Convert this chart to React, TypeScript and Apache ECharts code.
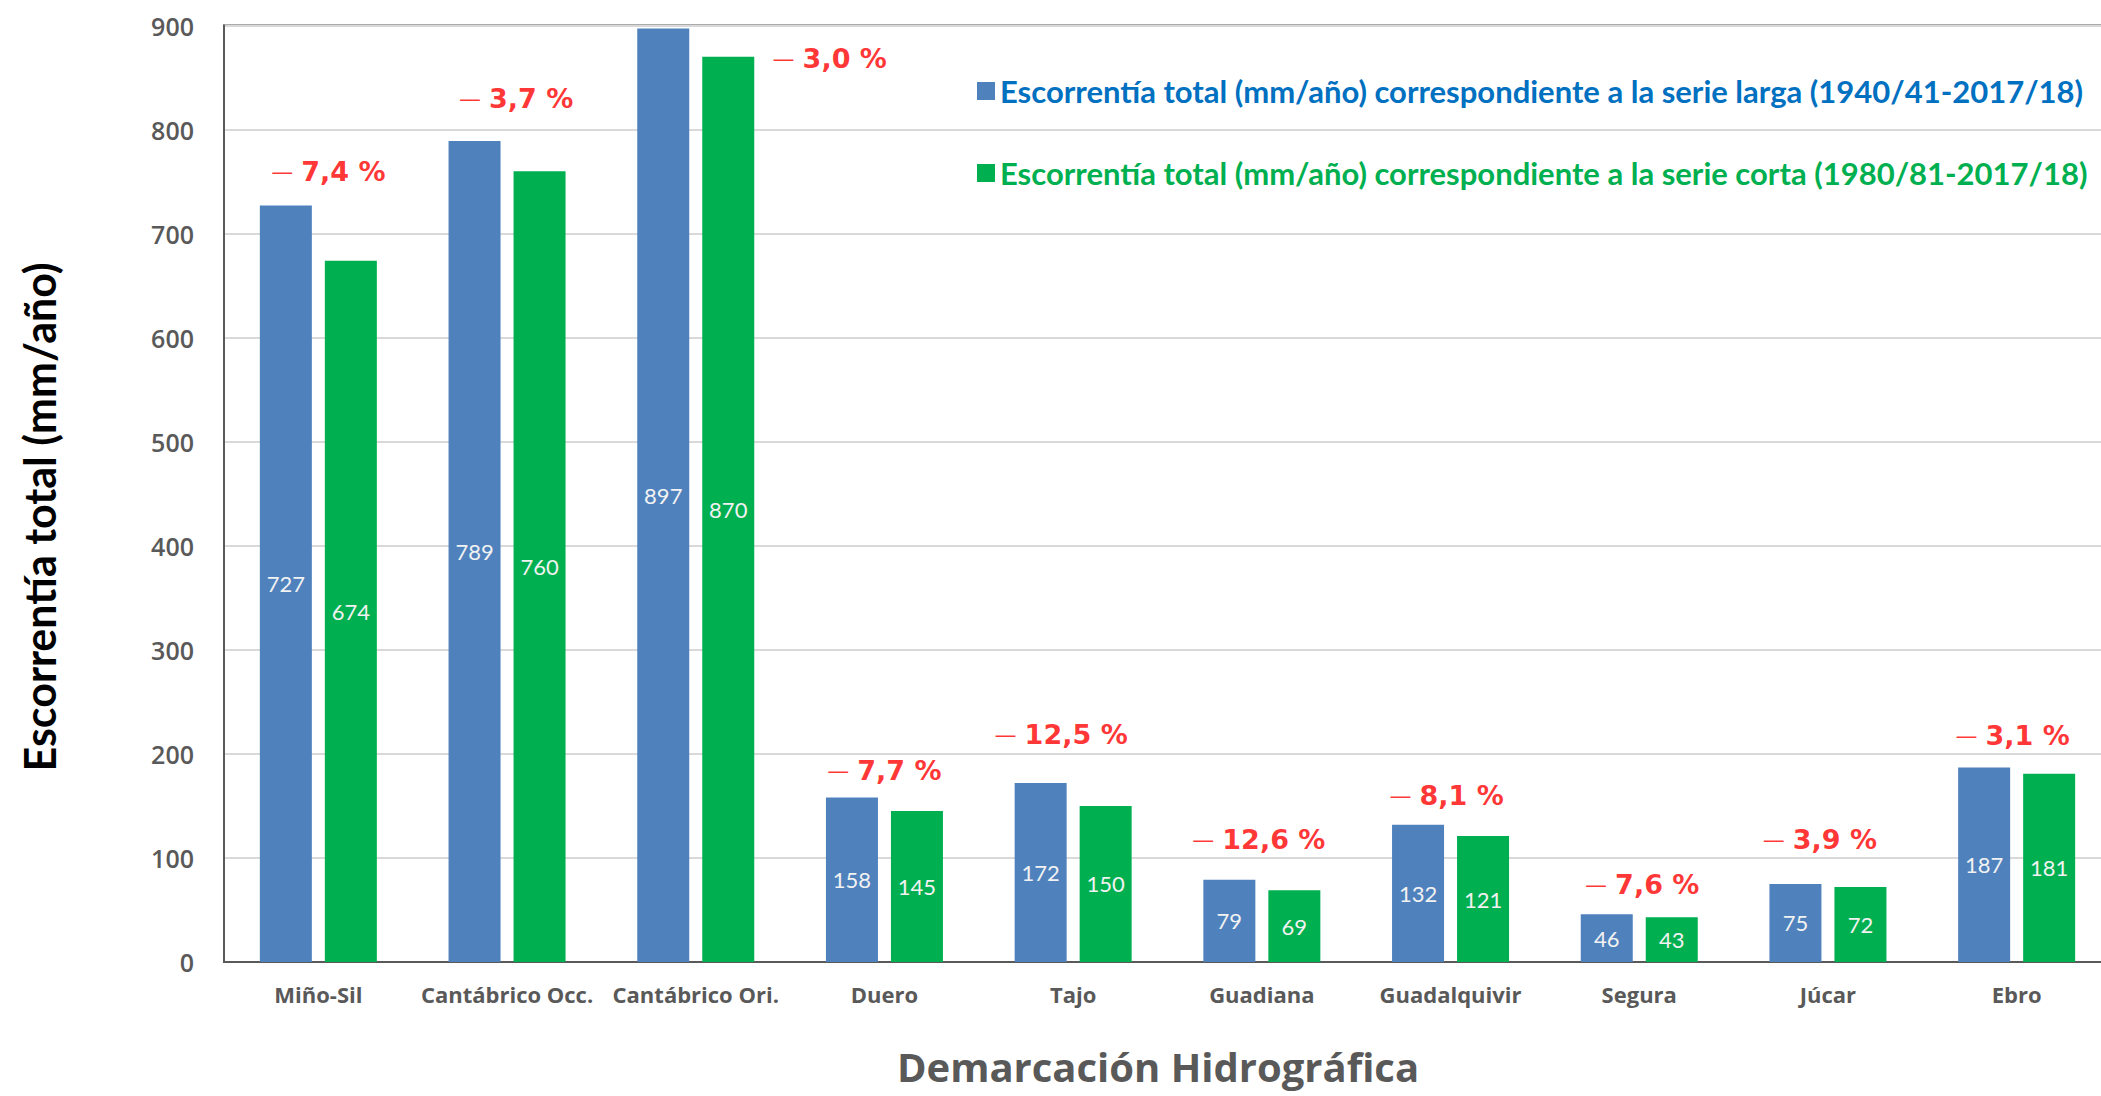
import React, { useEffect, useRef } from "react";
import * as echarts from "echarts";

const categories = [
  "Miño-Sil",
  "Cantábrico Occ.",
  "Cantábrico Ori.",
  "Duero",
  "Tajo",
  "Guadiana",
  "Guadalquivir",
  "Segura",
  "Júcar",
  "Ebro",
];
const serieLarga = [727, 789, 897, 158, 172, 79, 132, 46, 75, 187];
const serieCorta = [674, 760, 870, 145, 150, 69, 121, 43, 72, 181];
const variacion = [-7.4, -3.7, -3.0, -7.7, -12.5, -12.6, -8.1, -7.6, -3.9, -3.1];

const nameLarga =
  "Escorrentía total (mm/año) correspondiente a la serie larga (1940/41-2017/18)";
const nameCorta =
  "Escorrentía total (mm/año) correspondiente a la serie corta (1980/81-2017/18)";
const yTitle = "Escorrentía total (mm/año)";
const xTitle = "Demarcación Hidrográfica";

// layout: pixel offsets of the % labels relative to the top of the blue bar
const pctLabelOffsets: [number, number][] = [
  [10, -34],
  [9, -43],
  [134, 30],
  [0, -27],
  [-12, -49],
  [-3, -40],
  [-4, -29],
  [3, -30],
  [-8, -44],
  [-4, -32],
];

const BLUE = "#4F81BD";
const GREEN = "#00B050";
const GRAY = "#595959";

export default function App() {
  const ref = useRef<HTMLDivElement>(null);

  useEffect(() => {
    if (!ref.current) return;
    const chart = echarts.init(ref.current, undefined, { renderer: "svg" });

    const fmtPct = (v: number) => Math.abs(v).toFixed(1).replace(".", ",") + " %";

    const option: any = {
      animation: false,
      backgroundColor: "#ffffff",
      grid: {
        left: 224,
        top: 25.5,
        bottom: 134,
        right: 0,
        show: true,
        borderColor: GRAY,
        borderWidth: 2,
      },
      legend: {
        orient: "vertical",
        left: 977,
        top: 75,
        padding: 0,
        itemWidth: 18,
        itemHeight: 18,
        itemGap: 50,
        icon: "rect",
        selectedMode: false,
        textStyle: {
          fontFamily: "Lato",
          fontWeight: "bold",
          fontSize: 31,
          lineHeight: 32,
        },
        data: [
          { name: nameLarga, textStyle: { color: "#0070C0" } },
          { name: nameCorta, textStyle: { color: "#00B050" } },
        ],
      },
      xAxis: {
        type: "category",
        data: categories,
        axisTick: { show: false },
        axisLine: { show: true, lineStyle: { color: GRAY, width: 2 } },
        axisLabel: {
          interval: 0,
          margin: 21,
          fontFamily: "Open Sans",
          fontWeight: "bold",
          fontSize: 22,
          color: GRAY,
        },
      },
      yAxis: {
        type: "value",
        min: 0,
        max: 900,
        interval: 100,
        axisLine: { show: true, lineStyle: { color: GRAY, width: 2 } },
        axisTick: { show: false },
        splitLine: { lineStyle: { color: "#D9D9D9", width: 2 } },
        axisLabel: {
          margin: 30,
          fontFamily: "Open Sans",
          fontWeight: 600,
          fontSize: 25,
          color: GRAY,
        },
      },
      series: [
        {
          name: nameLarga,
          type: "bar",
          data: serieLarga,
          barWidth: 52,
          barGap: "25%",
          itemStyle: { color: BLUE },
          label: {
            show: true,
            position: "inside",
            fontFamily: "Lato",
            fontSize: 22,
            color: "#F2F2F2",
          },
        },
        {
          name: nameCorta,
          type: "bar",
          data: serieCorta,
          barWidth: 52,
          barGap: "25%",
          itemStyle: { color: GREEN },
          label: {
            show: true,
            position: "inside",
            fontFamily: "Lato",
            fontSize: 22,
            color: "#F2F2F2",
          },
        },
        {
          name: "variacion",
          type: "scatter",
          symbolSize: 0,
          z: 10,
          silent: true,
          data: categories.map((c, i) => ({
            value: [c, serieLarga[i]],
            label: { offset: pctLabelOffsets[i] },
          })),
          label: {
            show: true,
            position: "inside",
            formatter: (p: any) => `{d|—}{v|${fmtPct(variacion[p.dataIndex])}}`,
            rich: {
              d: {
                fontFamily: "DejaVu Sans",
                fontWeight: "normal",
                fontSize: 22,
                color: "#FF0000",
                padding: [0, 8, 0, 0],
              },
              v: {
                fontFamily: "DejaVu Sans",
                fontWeight: "bold",
                fontSize: 27,
                color: "#FF0000",
              },
            },
          },
        },
      ],
      graphic: [
        {
          type: "text",
          x: 39,
          y: 517,
          rotation: Math.PI / 2,
          style: {
            text: yTitle,
            fontFamily: "Lato",
            fontWeight: "bold",
            fontSize: 43,
            fill: "#000000",
            align: "center",
            verticalAlign: "middle",
          },
        },
        {
          type: "text",
          x: 1158,
          y: 1066,
          style: {
            text: xTitle,
            fontFamily: "Open Sans",
            fontWeight: "bold",
            fontSize: 40,
            lineHeight: 40,
            fill: GRAY,
            align: "center",
            verticalAlign: "middle",
          },
        },
      ],
    };

    chart.setOption(option);
    return () => chart.dispose();
  }, []);

  return (
    <div
      style={{
        position: "absolute",
        left: 0,
        top: 0,
        width: 2101,
        height: 1096,
        overflow: "hidden",
        background: "#ffffff",
      }}
    >
      <div ref={ref} style={{ width: 2111, height: 1096 }} />
    </div>
  );
}
